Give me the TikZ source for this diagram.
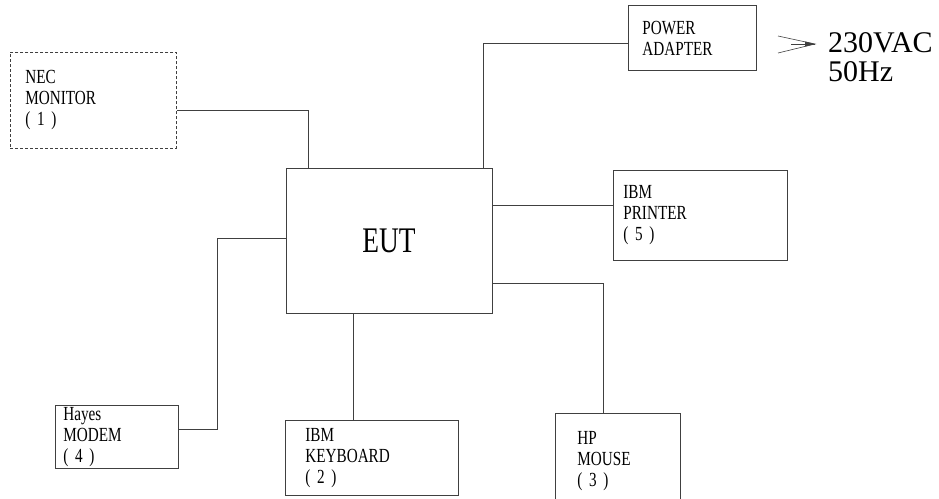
\documentclass[tikz,border=0pt]{standalone}
\usepackage{fontspec}
\setmainfont{Liberation Serif}
\newfontfamily\narrowfont[FakeStretch=0.76]{Liberation Serif}
\tikzset{
  font={\narrowfont\fontsize{20pt}{21pt}\selectfont}}

\begin{document}
\begin{tikzpicture}[x=1pt,y=1pt]
\tikzstyle{every node}+=[inner sep=0pt]
\tikzstyle{unit}=[draw=black!75, line width=0.8pt, anchor=north west, align=left, inner xsep=14pt]
\tikzstyle{link}=[draw=black!75, line width=0.8pt]
\useasboundingbox (0,0) rectangle (939,-498);
% units round the EUT
\node [unit, densely dashed, text width=136pt, minimum height=96pt, inner xsep=15pt] (monitor) at (10,-52) {NEC\\MONITOR\\( 1 )};
\node [unit, text width=100pt, minimum height=65pt] (adapter) at (628,-5) {POWER\\ADAPTER\\[4pt]};
\node [unit, minimum width=206pt, minimum height=145pt, anchor=center, font={\narrowfont\fontsize{36pt}{36pt}\selectfont}] (eut) at (389,-240.5) {EUT};
\node [unit, text width=154pt, minimum height=90pt, inner xsep=10pt] (printer) at (613,-170) {IBM\\PRINTER\\( 5 )\\[-4pt]};
\node [unit, text width=107pt, minimum height=63pt, inner xsep=8pt] (modem) at (55,-405) {Hayes\\MODEM\\( 4 )\\[-6pt]};
\node [unit, text width=133pt, minimum height=75pt, inner xsep=20pt] (keyboard) at (285,-420) {IBM\\KEYBOARD\\( 2 )};
\node [unit, text width=81pt, minimum height=96pt, inner xsep=22pt] (mouse) at (555,-413) {HP\\MOUSE\\( 3 )\\[10pt]};
\node [anchor=west, align=left, font={\fontsize{30pt}{29pt}\selectfont}] (mains) at (828,-57) {230VAC\\50Hz};
% cables
\draw [link] ([yshift=-58pt]monitor.north east) -| ([xshift=-81pt]eut.north);
\draw [link] ([xshift=94pt]eut.north) |- ([yshift=-5pt]adapter.west);
\draw [link] ([yshift=35pt]eut.east) -- ([yshift=35pt]eut.east -| printer.west);
\draw [link] ([yshift=-43pt]eut.east) -| ([xshift=-15pt]mouse.north);
\draw [link] ([xshift=-36pt]eut.south) -- ([xshift=-36pt]eut.south |- keyboard.north);
\draw [link] ([yshift=2pt]eut.west) -- ++(-68,0) |- ([yshift=8pt]modem.east);
% mains input
\coordinate (tip) at ([xshift=-13pt,yshift=13pt]mains.west);
\draw [link, line width=0.6pt] (tip) ++(-37,8) -- (tip) -- ++(-37,-9);
\draw [link, line width=0.6pt] (tip) -- ++(-24,0);
\fill [black!75] (tip) -- ++(-10,2.5) -- ++(0,-5) -- cycle;
\end{tikzpicture}
\end{document}
